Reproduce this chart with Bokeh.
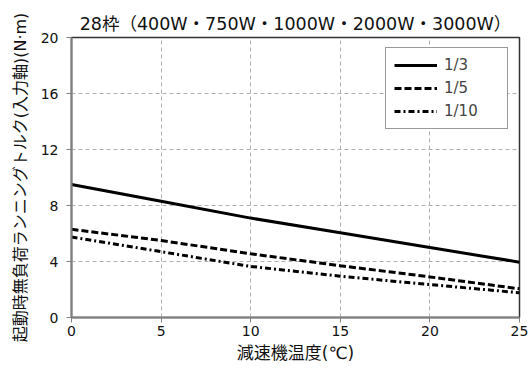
from bokeh.plotting import figure
from bokeh.models import Range1d, FixedTicker, Legend, LegendItem
from bokeh.embed import file_html
from bokeh.resources import INLINE

temps = [0, 5, 10, 15, 20, 25]
ratio_labels = ["1/3", "1/5", "1/10"]
torque_1_3 = [9.5, 8.3, 7.1, 6.05, 5.0, 3.95]
torque_1_5 = [6.3, 5.5, 4.55, 3.7, 2.9, 2.05]
torque_1_10 = [5.75, 4.7, 3.65, 2.95, 2.35, 1.77]
x_ticks = [0, 5, 10, 15, 20, 25]
y_ticks = [0, 4, 8, 12, 16, 20]

FONT = "DejaVu Sans, Noto Sans CJK JP"

p = figure(width=530, height=372, output_backend="svg", toolbar_location=None,
           x_range=Range1d(0, 25), y_range=Range1d(0, 20),
           min_border_left=71, min_border_right=11, min_border_top=37, min_border_bottom=55)
p.title.text = "28枠（400W・750W・1000W・2000W・3000W）"
p.title.align = "center"
p.title.text_font = FONT
p.title.text_font_size = "17.5px"
p.title.text_font_style = "normal"
p.title.text_color = "#111111"
p.title.standoff = 8

p.outline_line_color = "#333333"
p.outline_line_width = 1.5

for ax in (p.xaxis[0], p.yaxis[0]):
    ax.axis_line_color = "#808080"
    ax.axis_line_width = 2
    ax.major_tick_line_color = "#808080"
    ax.major_tick_out = 5
    ax.major_tick_in = 0
    ax.minor_tick_line_color = None
    ax.major_label_text_font = FONT
    ax.major_label_text_font_size = "14px"
    ax.major_label_text_color = "#111111"
    ax.axis_label_text_font = FONT
    ax.axis_label_text_font_style = "normal"
    ax.axis_label_text_color = "#111111"

p.xaxis.ticker = FixedTicker(ticks=x_ticks)
p.yaxis.ticker = FixedTicker(ticks=y_ticks)
p.xaxis.axis_label = "減速機温度(℃)"
p.yaxis.axis_label = "起動時無負荷ランニングトルク(入力軸)(N·m)"
p.xaxis.axis_label_text_font_size = "17px"
p.yaxis.axis_label_text_font_size = "16px"
p.xaxis.axis_label_standoff = 4
p.yaxis.axis_label_standoff = 8
p.xaxis.major_label_standoff = 3
p.yaxis.major_label_standoff = 8

for g in (p.xgrid[0], p.ygrid[0]):
    g.grid_line_color = "#b0b0b0"
    g.grid_line_dash = "4 3"
    g.grid_line_width = 1

r1 = p.line(temps, torque_1_3, line_color="black", line_width=3)
r2 = p.line(temps, torque_1_5, line_color="black", line_width=3, line_dash="7 3")
r3 = p.line(temps, torque_1_10, line_color="black", line_width=3, line_dash="6 3 2 3")

legend = Legend(items=[LegendItem(label=ratio_labels[0], renderers=[r1]),
                       LegendItem(label=ratio_labels[1], renderers=[r2]),
                       LegendItem(label=ratio_labels[2], renderers=[r3])],
                location=(314, 188))
legend.border_line_color = "#333333"
legend.border_line_width = 1.5
legend.label_text_font = "DejaVu Sans"
legend.label_text_font_size = "15px"
legend.label_standoff = 7
legend.label_width = 55
legend.glyph_width = 43
legend.glyph_height = 18
legend.label_height = 18
legend.spacing = 5
legend.padding = 8
legend.margin = 0
legend.background_fill_alpha = 1
p.add_layout(legend)

open("out.html", "w").write(file_html(p, INLINE))
